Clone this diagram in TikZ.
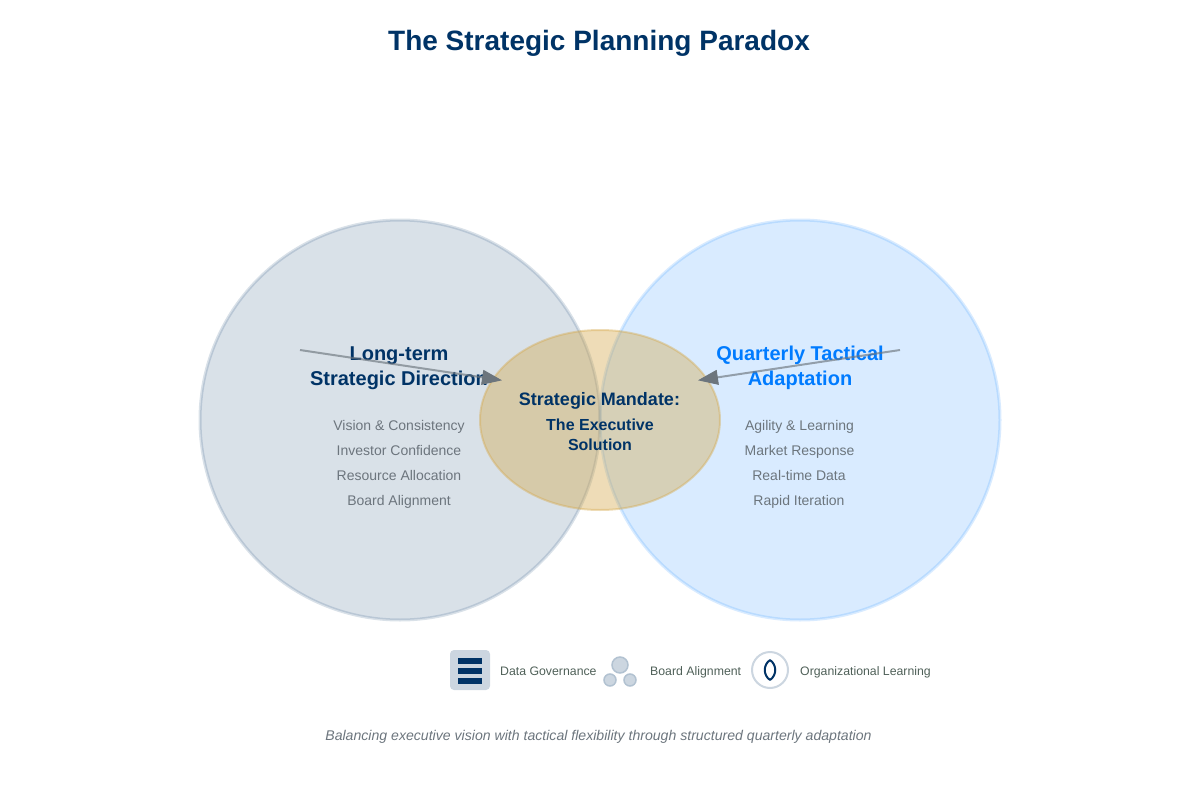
\documentclass[tikz,border=0pt]{standalone}
\usepackage{fontspec}
\setmainfont{Liberation Sans}
\usepackage{xcolor}
\usetikzlibrary{arrows.meta,positioning}
\definecolor{navyc}{HTML}{003366}
\definecolor{bluec}{HTML}{007BFF}
\definecolor{goldc}{HTML}{D4A84B}
\definecolor{grayc}{HTML}{6C757D}
\definecolor{darkc}{HTML}{4F6058}
\tikzset{
  headl/.style={font=\fontsize{20}{25}\selectfont\bfseries, align=center},
  itemt/.style={font=\fontsize{14}{17}\selectfont, text=grayc, anchor=base, inner sep=0pt},
  legendt/.style={font=\fontsize{12.3}{14}\selectfont, text=darkc, anchor=base west, inner sep=0pt},
  pull/.style={grayc, line width=2pt, opacity=0.65},
  pullhead/.style={-{Triangle[length=20pt,width=15pt]}, grayc, line width=1pt},
  smallc/.style={circle, minimum size=#1, inner sep=0pt, fill=navyc!20, draw=navyc!30, line width=1.5pt}
}
\begin{document}
\begin{tikzpicture}[x=1pt, y=-1pt, >=Latex]
  \useasboundingbox (0,0) rectangle (1200,800);
  % Venn circles
  \draw[navyc, line width=3pt, draw opacity=0.15, fill opacity=0.15, fill=navyc] (400,420) circle[radius=200];
  \draw[bluec, line width=3pt, draw opacity=0.15, fill opacity=0.15, fill=bluec] (800,420) circle[radius=200];
  \draw[goldc, line width=2pt, draw opacity=0.4, fill opacity=0.4, fill=goldc] (600,420) ellipse[x radius=120, y radius=90];

  % Title
  \node[font=\fontsize{28}{34}\selectfont\bfseries, text=navyc, anchor=base, inner sep=0pt] (title) at (599,51) {The Strategic Planning Paradox};

  % Left side
  \node[headl, text=navyc] (lefthead) at (399,368) {Long-term\\Strategic Direction};
  \node[itemt] (leftone) at (399,430) {Vision \& Consistency};
  \node[itemt] (lefttwo) at (399,455) {Investor Confidence};
  \node[itemt] (leftthree) at (399,480) {Resource Allocation};
  \node[itemt] (leftfour) at (399,505) {Board Alignment};

  % Right side
  \node[headl, text=bluec] (righthead) at (800,368) {Quarterly Tactical\\Adaptation};
  \node[itemt] (rightone) at (799.5,430) {Agility \& Learning};
  \node[itemt] (righttwo) at (799.5,455) {Market Response};
  \node[itemt] (rightthree) at (799,480) {Real-time Data};
  \node[itemt] (rightfour) at (799,505) {Rapid Iteration};

  % Overlap
  \node[font=\fontsize{18}{22}\selectfont\bfseries, text=navyc, anchor=base, inner sep=0pt] (mandate) at (599.5,405) {Strategic Mandate:};
  \node[font=\fontsize{16}{20}\selectfont\bfseries, text=navyc, align=center] (solution) at (600,434.5) {The Executive\\Solution};

  % Arrows into the overlap
  \coordinate (leftstart) at (300,350);
  \coordinate (leftneck) at (484,377.6);
  \coordinate (lefttip) at (502,380.3);
  \coordinate (rightstart) at (900,350);
  \coordinate (rightneck) at (716,377.6);
  \coordinate (righttip) at (698,380.3);
  \draw[pull] (leftstart) -- (leftneck);
  \draw[pull] (rightstart) -- (rightneck);
  \draw[pullhead] (leftneck) -- (lefttip);
  \draw[pullhead] (rightneck) -- (righttip);

  % Legend
  \fill[navyc!20, rounded corners=4pt] (450,650) rectangle (490,690);
  \foreach \ybar in {658,668,678}
    \fill[navyc] (458,\ybar) rectangle (482,\ybar+6);
  \node[legendt] (datagov) at (500,675) {Data Governance};

  \node[smallc=16pt] (topdot) at (620,665) {};
  \node[smallc=12pt] (leftdot) at (610,680) {};
  \node[smallc=12pt] (rightdot) at (630,680) {};
  \node[legendt] (boardal) at (650,675) {Board Alignment};

  \draw[navyc!20, line width=2pt, fill=white] (770,670) circle[radius=18];
  \draw[navyc, line width=2pt, line join=round] (770,660) .. controls (763,665) and (763,675) .. (770,680) .. controls (777,675) and (777,665) .. (770,660) -- cycle;
  \node[legendt] (orglearn) at (800,675) {Organizational Learning};

  % Footer
  \node[font=\fontsize{14.1}{17}\selectfont\itshape, text=grayc, anchor=base, inner sep=0pt] (footer) at (598.5,740) {Balancing executive vision with tactical flexibility through structured quarterly adaptation};
\end{tikzpicture}
\end{document}
